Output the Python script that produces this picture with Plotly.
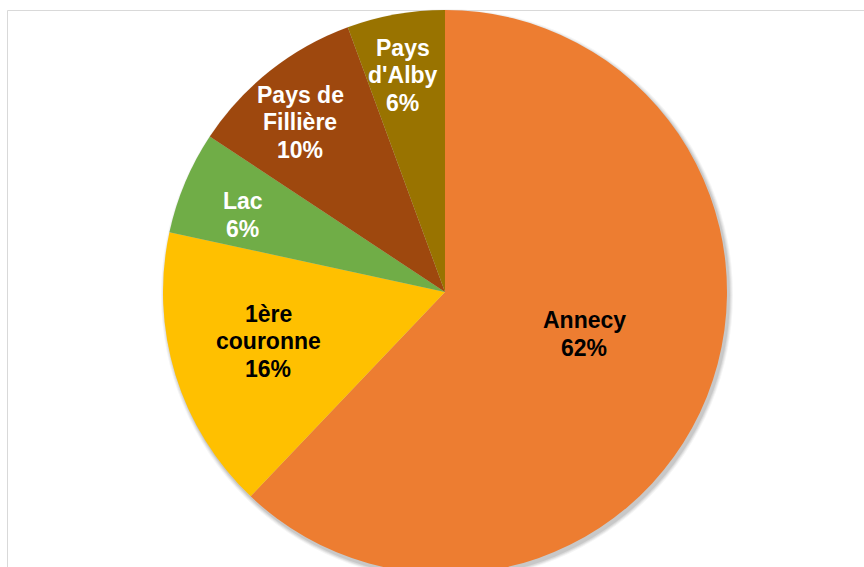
import math
import plotly.graph_objects as go

# ---- data ----
categories = ["Annecy", "1ère couronne", "Lac", "Pays de Fillière", "Pays d'Alby"]
label_lines = [["Annecy"], ["1ère", "couronne"], ["Lac"], ["Pays de", "Fillière"], ["Pays", "d'Alby"]]
values = [62.1, 16.3, 5.9, 10.1, 5.6]

# ---- style ----
colors = ["#ED7D31", "#FFC000", "#70AD47", "#9E480E", "#997300"]
text_colors = ["black", "black", "white", "white", "white"]
label_radius_frac = [0.515, 0.651, 0.767, 0.792, 0.784]
label_angle_offset = [-5.0, 1.6, -2.0, -2.1, -1.0]  # degrees

W, H = 864, 600
CX, CY, R = 445, 292, 282  # pixel centre / radius of the pie
FS = 23
LINE = 27.5

fig = go.Figure()
fig.add_trace(go.Pie(
    labels=categories,
    values=values,
    sort=False,
    direction="clockwise",
    rotation=0,
    marker=dict(colors=colors, line=dict(width=0)),
    textinfo="none",
    hoverinfo="skip",
    showlegend=False,
    domain=dict(x=[(CX - R) / W, (CX + R) / W],
                y=[1 - (CY + R) / H, 1 - (CY - R) / H]),
))

total = sum(values)
cum = 0.0
annotations = []
for lines, v, tc, f, off in zip(label_lines, values, text_colors, label_radius_frac, label_angle_offset):
    mid = (cum + v / 2) / total * 2 * math.pi + math.radians(off)
    cum += v
    px = CX + R * f * math.sin(mid)
    py = CY - R * f * math.cos(mid)
    pct = round(v / total * 100)
    all_lines = lines + [f"{pct}%"]
    n = len(all_lines)
    for i, t in enumerate(all_lines):
        ly = py + (i - (n - 1) / 2) * LINE
        annotations.append(dict(
            x=px / W, y=1 - ly / H, xref="paper", yref="paper",
            text=t, showarrow=False,
            xanchor="center", yanchor="middle", align="center",
            font=dict(family="Liberation Sans, Arial, sans-serif", size=FS, color=tc, weight="bold"),
        ))

shapes = []
# soft shadow
for extra, a in [(4, 0.04), (3, 0.05), (2, 0.06), (1, 0.08)]:
    r = R + extra
    sx, sy = CX + 2, CY + 3
    shapes.append(dict(type="circle", xref="paper", yref="paper", layer="below",
                       x0=(sx - r) / W, x1=(sx + r) / W,
                       y0=1 - (sy + r) / H, y1=1 - (sy - r) / H,
                       fillcolor=f"rgba(0,0,0,{a})", line=dict(width=0)))
# frame
shapes.append(dict(type="rect", xref="paper", yref="paper", layer="below",
                   x0=7.5 / W, x1=1.05, y0=-0.05, y1=1 - 10.5 / H,
                   line=dict(color="#D9D9D9", width=1), fillcolor="rgba(0,0,0,0)"))

fig.update_layout(
    width=W, height=H,
    margin=dict(l=0, r=0, t=0, b=0),
    paper_bgcolor="white",
    plot_bgcolor="white",
    annotations=annotations,
    shapes=shapes,
)

fig.write_html("out.html",
               config={"displayModeBar": False},
               post_script="document.body.style.margin='0';document.body.style.overflow='hidden';")
